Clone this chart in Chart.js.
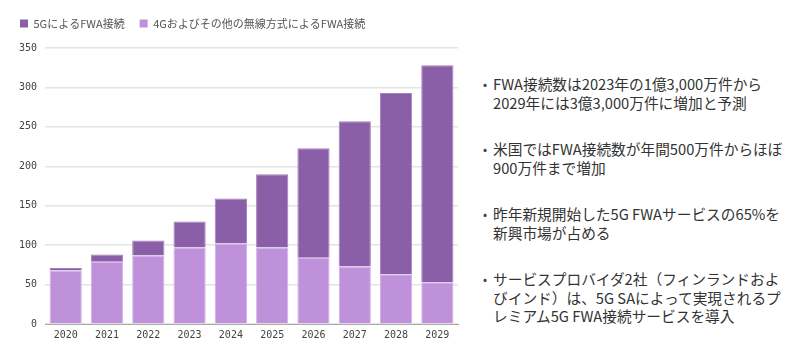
<!DOCTYPE html>
<html><head><meta charset="utf-8">
<script src="https://cdn.jsdelivr.net/npm/chart.js@4.4.1/dist/chart.umd.min.js"></script>
<style>
html,body{margin:0;padding:0;background:#fff;}
#wrap{position:absolute;left:0;top:0;width:470px;height:357px;}
#notes{position:absolute;left:479px;top:75px;width:320px;font-family:"Noto Sans CJK JP","Noto Sans",sans-serif;font-size:14.7px;line-height:18.5px;color:#333;}
#notes ul{margin:0;padding:0 0 0 14px;list-style:none;}
#notes li{position:relative;margin:0 0 28px 0;}
#notes li::before{content:"•";position:absolute;left:-10px;top:0;font-size:12px;color:#444;}
</style></head>
<body>
<div id="wrap"><canvas id="c" width="470" height="357"></canvas></div>
<div id="notes"><ul>
<li>FWA接続数は2023年の1億3,000万件から<br>2029年には3億3,000万件に増加と予測</li>
<li>米国ではFWA接続数が年間500万件からほぼ<br>900万件まで増加</li>
<li>昨年新規開始した5G FWAサービスの65%を<br>新興市場が占める</li>
<li>サービスプロバイダ2社（フィンランドおよ<br>びインド）は、5G SAによって実現されるプ<br>レミアム5G FWA接続サービスを導入</li>
</ul></div>
<script>
const categories = ["2020","2021","2022","2023","2024","2025","2026","2027","2028","2029"];
const fwa5G = [3, 9, 19, 33, 57, 93, 139, 184, 230, 275];
const fwa4G = [68, 79, 87, 97, 102, 97, 84, 73, 63, 53];
const seriesNames = ["5GによるFWA接続", "4Gおよびその他の無線方式によるFWA接続"];

const legendMargin = {
  id: 'legendMargin',
  beforeInit(chart) {
    const orig = chart.legend.fit;
    chart.legend.fit = function() { orig.call(this); this.height += 9; };
  }
};

new Chart(document.getElementById('c'), {
  type: 'bar',
  data: {
    labels: categories,
    datasets: [
      {label: seriesNames[0], data: fwa5G, backgroundColor: '#8b5ea8', borderColor: '#a67fc0', borderWidth: 1, order: 2, stack: 's'},
      {label: seriesNames[1], data: fwa4G, backgroundColor: '#bf91db', borderColor: '#d2b0e8', borderWidth: 1, order: 1, stack: 's'}
    ]
  },
  plugins: [legendMargin],
  options: {
    responsive: false,
    animation: false,
    layout: {padding: {left: 5, right: 12, top: 3, bottom: 11}},
    datasets: {bar: {barPercentage: 0.78, categoryPercentage: 1}},
    plugins: {
      legend: {
        position: 'top', align: 'start',
        labels: {
          boxWidth: 8, boxHeight: 8, padding: 15, color: '#555',
          font: {family: '"Noto Sans CJK JP","Noto Sans",sans-serif', size: 11},
          generateLabels: (chart) => {
            const ds = chart.data.datasets;
            return [0,1].map(i => ({text: ds[i].label, fillStyle: ds[i].backgroundColor, strokeStyle: ds[i].backgroundColor, lineWidth: 0, datasetIndex: i, fontColor: '#555'}));
          }
        }
      },
      tooltip: {enabled: false}
    },
    scales: {
      x: {
        stacked: true,
        grid: {display: false, drawTicks: false},
        border: {display: true, color: '#aaa', width: 1},
        ticks: {color: '#444', padding: 5, font: {family: '"DejaVu Sans Mono",monospace', size: 10}}
      },
      y: {
        stacked: true, min: 0, max: 350,
        afterFit: (s) => { s.width += 6; },
        grid: {color: '#e4e4e4', lineWidth: 1.5, drawTicks: false},
        border: {display: false},
        ticks: {stepSize: 50, color: '#444', padding: 8, font: {family: '"DejaVu Sans Mono",monospace', size: 10}}
      }
    }
  }
});
</script>
</body></html>
